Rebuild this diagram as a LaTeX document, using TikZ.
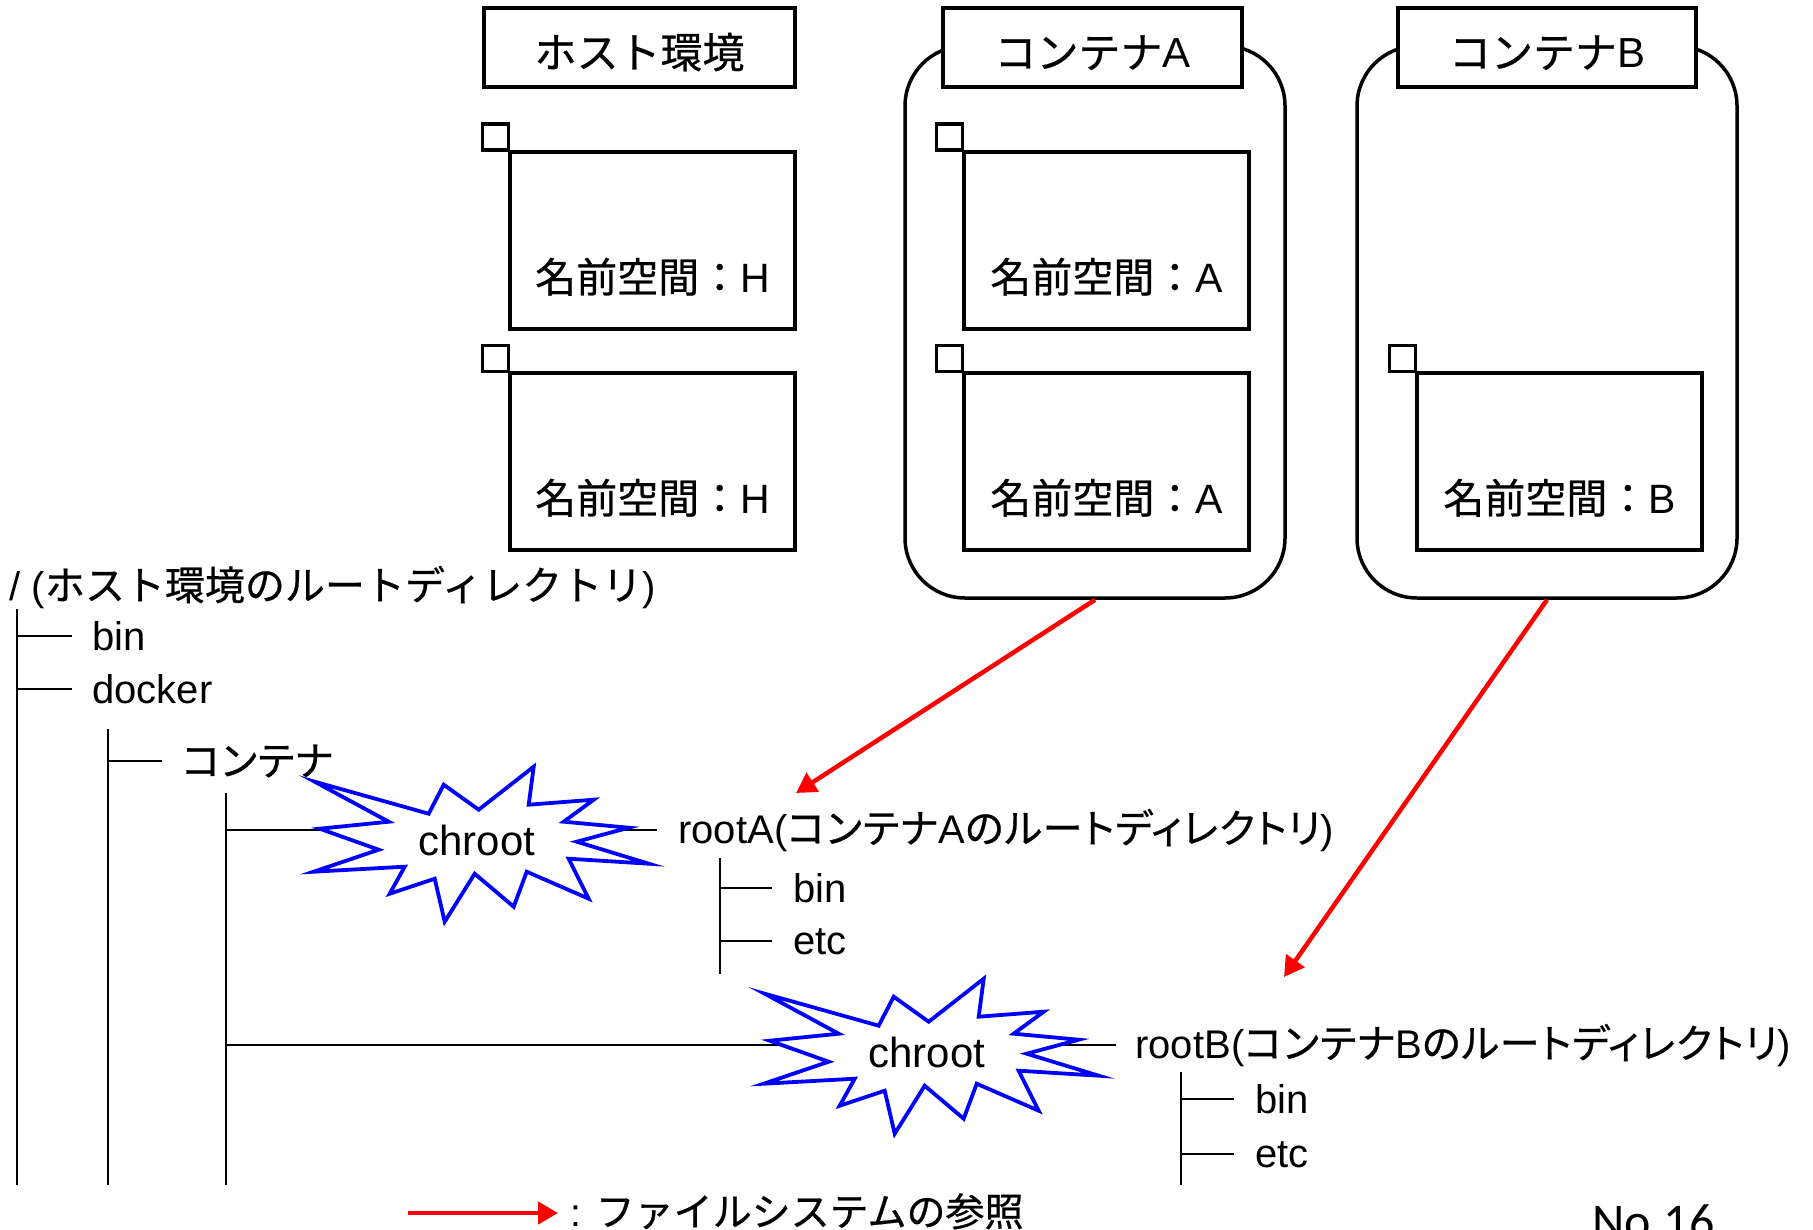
\documentclass[tikz,border=0pt]{standalone}
\usepackage{fontspec}
\usetikzlibrary{arrows.meta}
\setmainfont{Liberation Sans}
\newfontfamily\jpfont[FakeBold=0.6]{Noto Sans CJK JP}
\newfontfamily\jppfont[RawFeature=+palt, LetterSpace=2.5, FakeBold=0.6]{Noto Sans CJK JP}
\newfontfamily\nofont{Carlito}
\newcommand{\jtext}[1]{{\jpfont #1}}
\newcommand{\jptext}[1]{{\jppfont #1}}
\begin{document}
\begin{tikzpicture}[x=0.5pt,y=-0.5pt,
  titlebox/.style={draw, line width=1.75pt, fill=white, inner sep=0pt, minimum height=39.5pt, text height=23pt, text depth=2.5pt, font=\fontsize{21pt}{25pt}\selectfont},
  nsbox/.style={draw, line width=1.75pt, inner sep=0pt, minimum width=142.5pt, minimum height=88.5pt},
  tabbox/.style={draw, line width=1.75pt, inner sep=0pt, outer sep=0pt, minimum size=13pt, anchor=south east},
  nslabel/.style={inner sep=0pt, font=\fontsize{20.5pt}{24pt}\selectfont},
  contbox/.style={draw, line width=1.75pt, rounded corners=30pt, inner sep=0pt, minimum width=190pt, minimum height=276pt},
  treeline/.style={line width=1.1pt},
  ttext/.style={inner sep=0pt, anchor=base west, font=\fontsize{20pt}{24pt}\selectfont},
  refarrow/.style={red, line width=2.25pt, -{Triangle[length=10pt,width=11pt]}},
  burst/.style={blue, line width=1.9pt, fill=white, line join=miter},
  chtext/.style={inner sep=0pt, font=\fontsize{21pt}{25pt}\selectfont},
]
\useasboundingbox (0,0) rectangle (1813,1230);

% containers
\node[contbox] (contA) at (1095,322) {};
\node[contbox] (contB) at (1547,322) {};

% titles
\node[titlebox, minimum width=155.5pt] (titleH) at (639.5,47.5) {\jtext{ホスト環境}};
\node[titlebox, minimum width=149.5pt] (titleA) at (1092.5,47.5) {\jtext{コンテナ}A};
\node[titlebox, minimum width=149pt] (titleB) at (1547,47.5) {\jtext{コンテナ}B};

% namespace boxes
\node[nsbox] (nsH1) at (652.5,240.5) {};
\node[nsbox] (nsH2) at (652.5,461.5) {};
\node[nsbox] (nsA1) at (1106.5,240.5) {};
\node[nsbox] (nsA2) at (1106.5,461.5) {};
\node[nsbox] (nsB) at (1559.5,461.5) {};
\node[tabbox] (tabH1) at (nsH1.north west) {};
\node[tabbox] (tabH2) at (nsH2.north west) {};
\node[tabbox] (tabA1) at (nsA1.north west) {};
\node[tabbox] (tabA2) at (nsA2.north west) {};
\node[tabbox] (tabB) at (nsB.north west) {};
\node[nslabel] (lH1) at ([yshift=27pt]nsH1.south) {\jtext{名前空間：}H};
\node[nslabel] (lH2) at ([yshift=27pt]nsH2.south) {\jtext{名前空間：}H};
\node[nslabel] (lA1) at ([yshift=27pt]nsA1.south) {\jtext{名前空間：}A};
\node[nslabel] (lA2) at ([yshift=27pt]nsA2.south) {\jtext{名前空間：}A};
\node[nslabel] (lB) at ([yshift=27pt]nsB.south) {\jtext{名前空間：}B};

% tree texts
\node[ttext] (root) at (9,600) {/ (\jtext{ホスト環境のルートディレクトリ})};
\node[ttext] (hbin) at (92,650) {bin};
\node[ttext] (hdocker) at (92,703) {docker};
\node[ttext, anchor=west] (hcont) at (182,761) {\jptext{コンテナ}};
\node[ttext] (rootA) at (678,843) {rootA(\jptext{コンテナ}A\jptext{のルートディレクトリ})};
\node[ttext] (abin) at (793,902) {bin};
\node[ttext] (aetc) at (793,954) {etc};
\node[ttext] (rootB) at (1135,1058) {rootB(\jptext{コンテナ}B\jptext{のルートディレクトリ})};
\node[ttext] (bbin) at (1255,1113) {bin};
\node[ttext] (betc) at (1255,1167) {etc};

% tree lines
\coordinate (t1top) at (17,609);  \coordinate (t1bot) at (17,1185);
\coordinate (t2top) at (108,729); \coordinate (t2bot) at (108,1185);
\coordinate (t3top) at (226,793); \coordinate (t3bot) at (226,1185);
\coordinate (tAtop) at (720,858); \coordinate (tAbot) at (720,974);
\coordinate (tBtop) at (1181,1072); \coordinate (tBbot) at (1181,1185);
\draw[treeline] (t1top) -- (t1bot);
\draw[treeline] (t1top |- hbin.west) -- ([xshift=-10pt]hbin.west);
\draw[treeline] (t1top |- hdocker.west) -- ([xshift=-10pt]hdocker.west);
\draw[treeline] (t2top) -- (t2bot);
\draw[treeline] (t2top |- hcont.west) -- ([xshift=-10pt]hcont.west);
\draw[treeline] (t3top) -- (t3bot);
\draw[treeline] (t3top |- rootA.west) -- ([xshift=-10.5pt]rootA.west);
\draw[treeline] (t3top |- rootB.west) -- ([xshift=-9.5pt]rootB.west);
\draw[treeline] (tAtop) -- (tAbot);
\draw[treeline] (tAtop |- abin.west) -- ([xshift=-10.5pt]abin.west);
\draw[treeline] (tAtop |- aetc.west) -- ([xshift=-10.5pt]aetc.west);
\draw[treeline] (tBtop) -- (tBbot);
\draw[treeline] (tBtop |- bbin.west) -- ([xshift=-10.5pt]bbin.west);
\draw[treeline] (tBtop |- betc.west) -- ([xshift=-10.5pt]betc.west);

% chroot bursts
\foreach \cx/\cy/\nm in {476.7/840.7/ch1, 926.7/1052.7/ch2}{
  \draw[burst, shift={(\cx,\cy)}] (-162,-59) -- (-48,-27) -- (-33,-56) -- (2,-31) -- (57,-74) -- (52,-36) -- (117,-41) -- (87,-19) -- (152,-13) -- (100,1) -- (172,23) -- (92,18) -- (112,58) -- (50,31) -- (37,66) -- (-2,33) -- (-32,81) -- (-42,38) -- (-87,53) -- (-72,26) -- (-163,31) -- (-98,9) -- (-157,-12) -- (-88,-19) -- cycle;
  \node[chtext] (\nm) at (\cx,\cy) {chroot};
}

% reference arrows
\coordinate (tipA) at (796,793);
\coordinate (tipB) at (1284,977);
\draw[refarrow] (contA.south) -- (tipA);
\draw[refarrow] (contB.south) -- (tipB);

% legend
\node[ttext, font=\fontsize{19.5pt}{24pt}\selectfont] (legT) at (570,1226) {: \jtext{ファイルシステムの参照}};
\coordinate (legS) at (408,1213);
\draw[refarrow] (legS) -- ([xshift=-6pt]legT.west |- legS);

\node[inner sep=0pt, anchor=base west, font=\nofont\fontsize{25pt}{30pt}\selectfont] (pageno) at (1592,1238) {No.16};
\end{tikzpicture}
\end{document}
